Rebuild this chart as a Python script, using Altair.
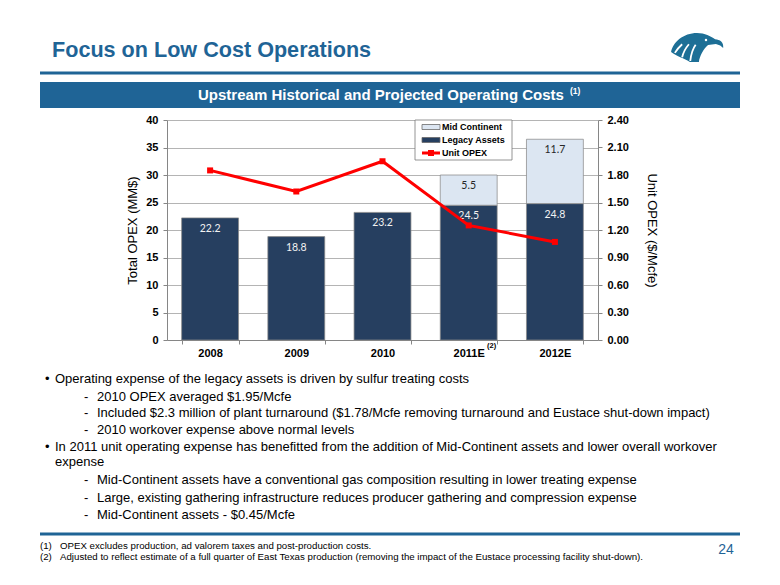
import altair as alt
import pandas as pd

# ---------------- data ----------------
years = ["2008", "2009", "2010", "2011E", "2012E"]
legacy_assets = [22.2, 18.8, 23.2, 24.5, 24.8]
mid_continent = [None, None, None, 5.5, 11.7]
unit_opex = [1.85, 1.62, 1.95, 1.25, 1.07]
series_names = ["Mid Continent", "Legacy Assets", "Unit OPEX"]
left_ticks = [0, 5, 10, 15, 20, 25, 30, 35, 40]
right_ticks = [0.0, 0.3, 0.6, 0.9, 1.2, 1.5, 1.8, 2.1, 2.4]

title_text = "Focus on Low Cost Operations"
banner_text = "Upstream Historical and Projected Operating Costs"
banner_note = "(1)"
x_note = "(2)"
left_title = "Total OPEX (MM$)"
right_title = "Unit OPEX ($/Mcfe)"
bullet_lines = [
    (0, "Operating expense of the legacy assets is driven by sulfur treating costs"),
    (1, "2010 OPEX averaged $1.95/Mcfe"),
    (1, "Included $2.3 million of plant turnaround ($1.78/Mcfe removing turnaround and Eustace shut-down impact)"),
    (1, "2010 workover expense above normal levels"),
    (0, "In 2011 unit operating expense has benefitted from the addition of Mid-Continent assets and lower overall workover"),
    (2, "expense"),
    (1, "Mid-Continent assets have a conventional gas composition resulting in lower treating expense"),
    (1, "Large, existing gathering infrastructure reduces producer gathering and compression expense"),
    (1, "Mid-Continent assets - $0.45/Mcfe"),
]
footnotes = [
    ("(1)", "OPEX excludes production, ad valorem taxes and post-production costs."),
    ("(2)", "Adjusted to reflect estimate of a full quarter of East Texas production (removing the impact of the Eustace processing facility shut-down)."),
]
page_number = "24"

# ---------------- styles ----------------
BLUE = "#1f6496"
DARK = "#263f60"
LIGHT = "#dce6f2"
RED = "#ff0000"
FONT = "Liberation Sans"
W, H = 431, 220
X0, Y0 = 167, 120  # page position of the plot origin


def rx(px):
    return px - X0


def ry(py):
    return py - Y0


# ---------------- tables ----------------
rows = []
for i, yr in enumerate(years):
    rows.append({"year": yr, "series": "Legacy Assets", "value": legacy_assets[i],
                 "order": 0, "top": legacy_assets[i]})
    if mid_continent[i] is not None:
        rows.append({"year": yr, "series": "Mid Continent", "value": mid_continent[i],
                     "order": 1, "top": legacy_assets[i] + mid_continent[i]})
bar_df = pd.DataFrame(rows)
line_df = pd.DataFrame({"year": years, "opex": unit_opex})
one = pd.DataFrame({"k": [0]})

x_enc = alt.X(
    "year:N", sort=years, title=None,
    scale=alt.Scale(paddingInner=0.34, paddingOuter=0.17),
    axis=alt.Axis(labelAngle=0, labelFontWeight="bold", labelFontSize=11, labelColor="#000",
                  labelFont=FONT, domainColor="#868686", tickColor="#868686", tickSize=4,
                  tickBand="extent", labelPadding=3),
)

left_axis = alt.Axis(values=left_ticks, title=left_title, titleFontSize=13, titleFontWeight="normal",
                     titleFont=FONT, titleColor="#000", titlePadding=6,
                     labelFontWeight="bold", labelFontSize=11, labelFont=FONT, labelColor="#000",
                     gridColor="#b4b4b4", domainColor="#868686", tickColor="#868686",
                     tickSize=4, labelPadding=5)
left_scale = alt.Scale(domain=[0, 40], nice=False)

bars = alt.Chart(bar_df).mark_bar(stroke="#8a8a8a", strokeWidth=0.75).encode(
    x=x_enc,
    y=alt.Y("value:Q", stack="zero", scale=left_scale, axis=left_axis),
    color=alt.Color("series:N", scale=alt.Scale(domain=["Legacy Assets", "Mid Continent"],
                                                range=[DARK, LIGHT]), legend=None),
    order=alt.Order("order:Q"),
)
labels = alt.Chart(bar_df).mark_text(dy=11, baseline="middle", fontSize=10.5, font="Lato").encode(
    x=x_enc,
    y=alt.Y("top:Q", scale=left_scale, axis=left_axis),
    text=alt.Text("value:Q", format=".1f"),
    color=alt.condition(alt.datum.series == "Legacy Assets", alt.value("#f2f2f2"), alt.value("#262626")),
)
bar_group = alt.layer(bars, labels)

line = alt.Chart(line_df).mark_line(
    color=RED, strokeWidth=3,
    point=alt.OverlayMarkDef(shape="square", size=36, filled=True, color=RED),
).encode(
    x=x_enc,
    y=alt.Y("opex:Q", scale=alt.Scale(domain=[0, 2.4], nice=False),
            axis=alt.Axis(orient="right", values=right_ticks, format=".2f", grid=False,
                          title=right_title, titleFontSize=13, titleFontWeight="normal",
                          titleFont=FONT, titleColor="#000", titlePadding=16,
                          labelFontWeight="bold", labelFontSize=11, labelFont=FONT,
                          labelColor="#000", domainColor="#868686", tickColor="#868686",
                          tickSize=4, labelPadding=5)),
)


def txt(s, px, py, **kw):
    base = dict(align="left", baseline="middle", font=FONT, fontSize=13, color="#000")
    base.update(kw)
    return alt.Chart(one).mark_text(**base).encode(
        x=alt.value(rx(px)), y=alt.value(ry(py)), text=alt.value(s))


deco = []
# header
deco.append(txt(title_text, 52, 51, fontSize=21.6, fontWeight="bold", color=BLUE))
deco.append(alt.Chart(one).mark_rule(color=BLUE, strokeWidth=3).encode(
    x=alt.value(rx(40)), x2=alt.value(rx(740)), y=alt.value(ry(73))))
deco.append(alt.Chart(one).mark_rect(color=BLUE).encode(
    x=alt.value(rx(40)), x2=alt.value(rx(740)), y=alt.value(ry(82)), y2=alt.value(ry(108))))
deco.append(txt(banner_text, 381, 95, align="center", fontSize=15, fontWeight="bold", color="white"))
deco.append(txt(banner_note, 570, 91, fontSize=8.5, fontWeight="bold", color="white"))

# eagle logo
eagle = ("M -0.96 0.17 C -0.9 -0.2 -0.5 -0.54 0 -0.54 C 0.3 -0.54 0.5 -0.42 0.67 -0.31 "
         "C 0.85 -0.3 1.0 -0.2 0.97 0.02 L 0.86 -0.07 L 0.7 -0.13 L 0.41 -0.09 "
         "C 0.25 0.05 0.1 0.3 0.07 0.54 L -0.26 0.54 C -0.5 0.4 -0.8 0.3 -0.96 0.17 Z")
gaps = ("M -0.55 -0.12 C -0.68 0.0 -0.75 0.08 -0.82 0.2 "
        "M -0.3 -0.12 C -0.42 0.02 -0.5 0.15 -0.55 0.36 "
        "M -0.05 -0.1 C -0.16 0.05 -0.22 0.25 -0.25 0.5")
deco.append(alt.Chart(one).mark_point(shape=eagle, filled=True, color="#1d6f96", size=2916,
                                      strokeWidth=0, opacity=1).encode(
    x=alt.value(rx(697)), y=alt.value(ry(47.5))))
deco.append(alt.Chart(one).mark_point(shape=gaps, filled=False, color="white", size=2916,
                                      strokeWidth=1.8, opacity=1).encode(
    x=alt.value(rx(697)), y=alt.value(ry(47.5))))
deco.append(alt.Chart(one).mark_point(shape="circle", filled=True, color="white", size=6,
                                      opacity=1).encode(
    x=alt.value(rx(706)), y=alt.value(ry(40))))

# legend
deco.append(alt.Chart(one).mark_rect(fill="white", stroke="#7a7a7a", strokeWidth=0.8).encode(
    x=alt.value(rx(415)), x2=alt.value(rx(512)), y=alt.value(ry(120)), y2=alt.value(ry(160))))
legend_rows = [127, 140, 153]
deco.append(alt.Chart(one).mark_rect(fill=LIGHT, stroke="#6a6a6a", strokeWidth=0.8).encode(
    x=alt.value(rx(422)), x2=alt.value(rx(440)), y=alt.value(ry(124.5)), y2=alt.value(ry(129.5))))
deco.append(alt.Chart(one).mark_rect(fill=DARK, stroke="#6a6a6a", strokeWidth=0.8).encode(
    x=alt.value(rx(422)), x2=alt.value(rx(440)), y=alt.value(ry(137.5)), y2=alt.value(ry(142.5))))
deco.append(alt.Chart(one).mark_rule(color=RED, strokeWidth=3).encode(
    x=alt.value(rx(422)), x2=alt.value(rx(440)), y=alt.value(ry(153))))
deco.append(alt.Chart(one).mark_point(shape="square", filled=True, color=RED, size=36, opacity=1).encode(
    x=alt.value(rx(431)), y=alt.value(ry(153))))
for name, yy in zip(series_names, legend_rows):
    deco.append(txt(name, 442, yy, fontSize=9, fontWeight="bold"))

# x-axis note
deco.append(txt(x_note, 487, 346, fontSize=7.5, fontWeight="bold"))

# bullets
bullet_y = [379, 397, 413, 430, 447, 462, 480, 498, 515]
for (lvl, s), yy in zip(bullet_lines, bullet_y):
    if lvl == 0:
        deco.append(txt("\u2022", 45, yy))
        deco.append(txt(s, 55, yy))
    elif lvl == 2:
        deco.append(txt(s, 55, yy))
    else:
        deco.append(txt("-", 84, yy))
        deco.append(txt(s, 97, yy))

# footer
deco.append(alt.Chart(one).mark_rule(color=BLUE, strokeWidth=3).encode(
    x=alt.value(rx(40)), x2=alt.value(rx(740)), y=alt.value(ry(534))))
for (tag, s), yy in zip(footnotes, [546, 557]):
    deco.append(txt(tag, 40, yy, fontSize=9.7))
    deco.append(txt(s, 60, yy, fontSize=9.7))
deco.append(txt(page_number, 726, 550, align="center", fontSize=14, color=BLUE))

chart = alt.layer(bar_group, line, *deco).resolve_scale(y="independent").properties(
    width=W, height=H,
    autosize=alt.AutoSizeParams(type="none"),
    padding={"left": X0 - 8, "top": Y0 - 8, "right": 764 - (X0 - 8) - W, "bottom": 565 - (Y0 - 8) - H},
    background="white",
).configure_view(stroke=None)

chart.save("out.html", embed_options={"renderer": "svg", "actions": False})
